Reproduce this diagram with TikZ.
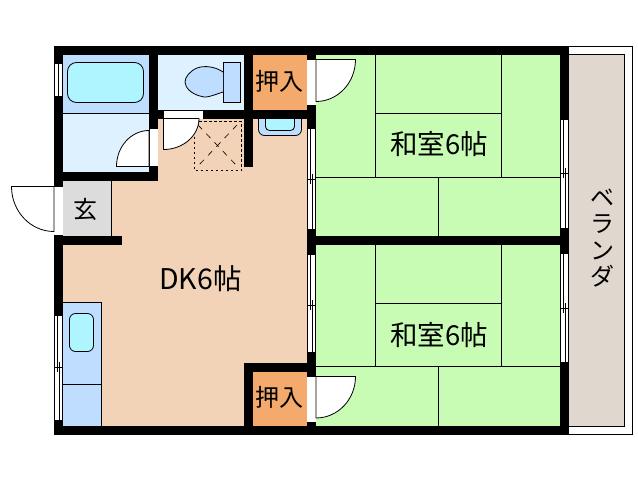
\documentclass[tikz,border=0pt]{standalone}
\usepackage{fontspec}
\setmainfont{Noto Sans CJK JP}
\definecolor{beige}{HTML}{F2D3B8}
\definecolor{tatami}{HTML}{C8FCB4}
\definecolor{closet}{HTML}{F3AA6C}
\definecolor{wet}{HTML}{DEF1FF}
\definecolor{unit}{HTML}{BEDDFF}
\definecolor{basin}{HTML}{AEF5FF}
\definecolor{hall}{HTML}{DCDCDC}
\definecolor{deck}{HTML}{E0D7CE}
\tikzset{
  wall/.style={fill=black,draw=none},
  thin line/.style={draw=black,line width=0.8pt},
  swing/.style={fill=white,draw=black,line width=0.8pt},
  label/.style={inner sep=0pt,font=\fontsize{24}{24}\selectfont},
  big label/.style={inner sep=0pt,font=\fontsize{27.5}{27.5}\selectfont},
  dashbox/.style={draw=black,line width=0.7pt,dash pattern=on 2.5pt off 2.5pt},
  dashcross/.style={draw=black,line width=0.6pt,dash pattern=on 6pt off 6pt}
}
\newcommand{\vwin}[4]{% x, y0, y1, ycross
  \fill[white] (#1,#2) rectangle (#1+9,#3);
  \draw[thin line] (#1+.5,#2) -- (#1+.5,#3) (#1+8.5,#2) -- (#1+8.5,#3)
    (#1+3.5,#2) -- (#1+3.5,#4+5) (#1+5.5,#4-5) -- (#1+5.5,#3)
    (#1,#2) -- (#1+9,#2) (#1,#3) -- (#1+9,#3)
    (#1+.5,#4) -- (#1+8.5,#4);
}
\begin{document}
\begin{tikzpicture}[x=1pt,y=-1pt]
\useasboundingbox (0,0) rectangle (638,480);
\fill[white] (0,0) rectangle (638,480);
% balcony
\draw[thin line,fill=white] (565,46.5) rectangle (632.5,434.5);
\draw[thin line,fill=deck] (565,54.5) rectangle (624.5,426.5);
% floors
\fill[beige] (63,110) rectangle (307,426);
\fill[wet] (63,55) rectangle (149,172);
\fill[unit] (63,55) rectangle (149,113);
\fill[wet] (158,55) rectangle (244,110);
\fill[closet] (253,55) rectangle (307,110);
\fill[closet] (253,372) rectangle (307,426);
\fill[tatami] (316,55) rectangle (560,236);
\fill[tatami] (316,245) rectangle (560,426);
\fill[hall] (63,181) rectangle (112,236);
\fill[unit] (63,302) rectangle (102,426);
% fixture outlines
\draw[thin line] (63,113.5) -- (149,113.5);
\draw[thin line] (111.5,181) -- (111.5,236);
\draw[thin line,fill=basin,rounded corners=9pt] (67.5,62.5) rectangle (143.5,102.5);
\draw[thin line] (63,302.5) -- (101.5,302.5) -- (101.5,426) (63,384.5) -- (101.5,384.5);
\draw[thin line,fill=basin,rounded corners=6pt] (69.5,313.5) rectangle (93.5,351.5);
\draw[thin line,fill=unit] (223.5,62.5) rectangle (240.5,102.5);
\draw[thin line,fill=unit] (223,72) .. controls (216,67) and (205,65) .. (197,68)
  .. controls (190,71) and (185,77) .. (185,82)
  .. controls (185,88) and (192,94) .. (200,96)
  .. controls (205,99) and (214,95) .. (223,92);
\draw[thin line,fill=unit,rounded corners=6pt] (258.5,115) -- (258.5,135.5) -- (301.5,135.5) -- (301.5,115);
\draw[thin line,fill=basin,rounded corners=4pt] (265.5,118) -- (265.5,130.5) -- (294.5,130.5) -- (294.5,118);
% tatami lines
\draw[thin line] (316,177.5) -- (560,177.5) (501.5,55) -- (501.5,177.5)
  (375.5,55) -- (375.5,177.5) (375.5,113.5) -- (501.5,113.5) (438.5,177.5) -- (438.5,236);
\draw[thin line] (316,366.5) -- (560,366.5) (501.5,245) -- (501.5,366.5)
  (375.5,245) -- (375.5,366.5) (375.5,303.5) -- (501.5,303.5) (438.5,366.5) -- (438.5,426);
% dashed square
\draw[dashbox] (194.5,121.5) rectangle (241.5,170.5);
\draw[dashcross] (198,125) -- (237,166) (237,125) -- (198,166);
% walls
\fill[wall] (54,46) rectangle (569,55);
\fill[wall] (54,426) rectangle (569,435);
\fill[wall] (54,46) rectangle (63,435);
\fill[wall] (560,46) rectangle (569,435);
\fill[wall] (307,46) rectangle (316,435);
\fill[wall] (307,236) rectangle (569,245);
\fill[wall] (149,46) rectangle (158,181);
\fill[wall] (54,172) rectangle (158,181);
\fill[wall] (54,236) rectangle (122,245);
\fill[wall] (149,110) rectangle (316,119);
\fill[wall] (244,46) rectangle (253,167);
\fill[wall] (244,363) rectangle (316,372);
\fill[wall] (244,363) rectangle (253,435);
% windows
\fill[white] (54,63) rectangle (63,96.5);
\draw[thin line] (54.5,63) -- (54.5,96.5) (58.5,63) -- (58.5,96.5) (62.5,63) -- (62.5,96.5) (54,63) -- (63,63) (54,96.5) -- (63,96.5);
\vwin{54}{315}{420.5}{367}
\vwin{307}{128}{229}{179}
\vwin{307}{254}{352.5}{305}
\vwin{560}{119}{228}{173}
\vwin{560}{253}{362.5}{308}
% door openings and leaves
\fill[white] (149,128) rectangle (158,167);
\draw[thin line] (149,128.5) -- (158,128.5) (149,166.5) -- (158,166.5) (149.5,128) -- (149.5,167);
\draw[swing] (149,166.5) -- (116.5,166.5) arc[start angle=180,end angle=270,x radius=32.5,y radius=36] -- cycle;
\fill[white] (163,110) rectangle (203,119);
\draw[thin line] (163,110.5) -- (203,110.5) (163,118.5) -- (199,118.5);
\draw[swing] (163.5,110) -- (163.5,149.5) arc[start angle=90,end angle=0,x radius=35.5,y radius=31] -- (163.5,118.5);
\fill[white] (54,186) rectangle (63,235);
\draw[thin line] (54,186.5) -- (63,186.5) (54,235) -- (63,235);
\draw[swing] (54,186.5) -- (11.5,186.5) arc[start angle=180,end angle=90,x radius=42.5,y radius=45] -- cycle;
\fill[white] (307,59) rectangle (316,105);
\draw[thin line] (307,59.5) -- (316,59.5) (307,105) -- (316,105);
\draw[swing] (316,59.5) -- (355.5,59.5) arc[start angle=0,end angle=90,x radius=39.5,y radius=42] -- cycle;
\fill[white] (307,376) rectangle (316,422);
\draw[thin line] (307,376.5) -- (316,376.5) (307,422) -- (316,422);
\draw[swing] (316,376.5) -- (355.5,376.5) arc[start angle=0,end angle=90,x radius=39.5,y radius=41.5] -- cycle;
% labels
\node[label] (closetA) at (279.5,81.5) {押入};
\node[label] (closetB) at (279.5,397.5) {押入};
\node[label] (entry) at (85,209.5) {玄};
\node[big label,font=\fontsize{28.5}{28.5}\selectfont] (dk) at (200.5,279) {DK6帖};
\node[big label] (roomA) at (439,144.5) {和室6帖};
\node[big label] (roomB) at (439,335) {和室6帖};
\node[label,align=center,font=\fontsize{24}{26.5}\selectfont] (veranda) at (602,238) {ベ\\ラ\\ン\\ダ};
\end{tikzpicture}
\end{document}
